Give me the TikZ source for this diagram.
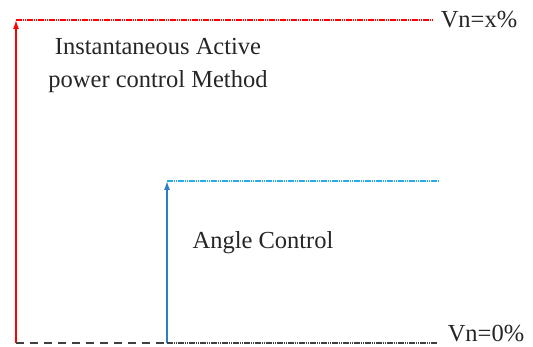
\documentclass[tikz,border=0pt]{standalone}
\usepackage{fontspec}
\setmainfont{Liberation Serif}
\usetikzlibrary{arrows.meta}

\definecolor{ctrlred}{RGB}{255,0,0}
\definecolor{ctrlblue}{RGB}{45,125,200}
\definecolor{ctrlcyan}{RGB}{40,170,235}

\begin{document}
\begin{tikzpicture}
  [x=1pt,y=-1pt,every node/.style={font=\fontsize{24.5}{33}\selectfont,text=black!85,inner sep=0pt},
   riser/.style={line width=1.4pt,-{Latex[length=9pt,width=6pt]}},
   level/.style={line width=1.2pt,dash pattern=on 1.6pt off 0.6pt}]
  \useasboundingbox (0,0) rectangle (533,347);
  \coordinate (r0) at (16,343);
  \coordinate (r1) at (16,20);
  \coordinate (r2) at (433,20);
  \coordinate (b0) at (167,343);
  \coordinate (b1) at (167,181);
  \coordinate (b2) at (438,181);
  \coordinate (z1) at (437,343);
  \node (vx) at (479,20) {Vn=x\%};
  \node (v0) at (486,334) {Vn=0\%};
  \node[align=center] (iap) at (158,66) {Instantaneous Active\\power control Method};
  \node (ang) at (263,243) {Angle Control};

  \draw [riser,ctrlred] (r0) -- (r1);
  \draw [level,ctrlred] (r1) -- (r2);
  \draw [riser,ctrlblue] (b0) -- (b1);
  \draw [level,ctrlcyan] (b1) -- (b2);
  \draw [line width=1.4pt,black!75,dash pattern=on 8pt off 6pt] (r0) -- (b0);
  \draw [level,black!75] (b0) -- (z1);

\end{tikzpicture}
\end{document}
